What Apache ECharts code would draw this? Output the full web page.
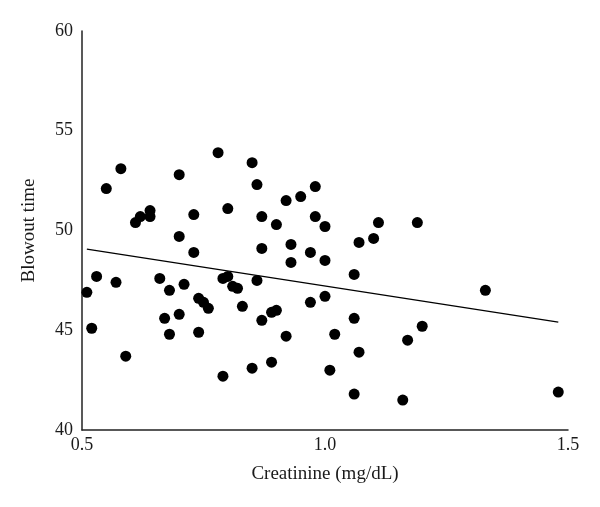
<!DOCTYPE html>
<html>
<head>
<meta charset="utf-8">
<script src="https://cdn.jsdelivr.net/npm/echarts@6/dist/echarts.min.js"></script>
<style>html,body{margin:0;padding:0;background:#fff}#c{width:600px;height:507px}</style>
</head>
<body>
<div id="c"></div>
<script>
const creatinine = [0.51,0.52,0.53,0.55,0.57,0.58,0.59,0.61,0.62,0.64,0.64,0.66,0.67,0.68,0.68,0.70,0.70,0.70,0.71,0.73,0.73,0.74,0.74,0.75,0.76,0.78,0.79,0.79,0.80,0.80,0.81,0.82,0.83,0.85,0.86,0.86,0.85,0.87,0.87,0.87,0.89,0.90,0.90,0.89,0.92,0.92,0.93,0.93,0.95,0.97,0.97,0.98,0.98,1.00,1.00,1.00,1.01,1.02,1.06,1.06,1.06,1.07,1.07,1.10,1.11,1.16,1.17,1.19,1.20,1.33,1.48];
const blowout = [46.9,45.1,47.7,52.1,47.4,53.1,43.7,50.4,50.7,51.0,50.7,47.6,45.6,47.0,44.8,52.8,49.7,45.8,47.3,50.8,48.9,46.6,44.9,46.4,46.1,53.9,47.6,42.7,51.1,47.7,47.2,47.1,46.2,53.4,52.3,47.5,43.1,50.7,49.1,45.5,45.9,50.3,46.0,43.4,51.5,44.7,49.3,48.4,51.7,48.9,46.4,52.2,50.7,50.2,48.5,46.7,43.0,44.8,47.8,45.6,41.8,49.4,43.9,49.6,50.4,41.5,44.5,50.4,45.2,47.0,41.9];
const trendX = [0.51, 1.48];
const trendY = [49.07, 45.41];
const xTicks = [0.5, 1.0, 1.5];
const yTicks = [40, 45, 50, 55, 60];

const pts = creatinine.map((x, i) => [x, blowout[i]]);
const trend = trendX.map((x, i) => [x, trendY[i]]);
const font = '"Liberation Serif", "DejaVu Serif", serif';

const chart = echarts.init(document.getElementById('c'), null, {renderer: 'canvas'});
chart.setOption({
  animation: false,
  backgroundColor: '#fff',
  grid: {left: 82, right: 32, top: 31, bottom: 77, containLabel: false},
  xAxis: {
    type: 'value', min: xTicks[0], max: xTicks[xTicks.length - 1], interval: 0.5,
    name: 'Creatinine (mg/dL)', nameLocation: 'middle', nameGap: 35,
    nameTextStyle: {fontFamily: font, fontSize: 19, color: '#1a1a1a'},
    axisLine: {show: true, lineStyle: {color: '#222', width: 1.5}},
    axisTick: {show: false},
    splitLine: {show: false},
    axisLabel: {fontFamily: font, fontSize: 18, color: '#1a1a1a', margin: 6,
      formatter: v => v.toFixed(1)}
  },
  yAxis: {
    type: 'value', min: yTicks[0], max: yTicks[yTicks.length - 1], interval: 5,
    name: 'Blowout time', nameLocation: 'middle', nameGap: 43,
    nameTextStyle: {fontFamily: font, fontSize: 19, color: '#1a1a1a'},
    axisLine: {show: true, lineStyle: {color: '#222', width: 1.5}},
    axisTick: {show: false},
    splitLine: {show: false},
    axisLabel: {fontFamily: font, fontSize: 18, color: '#1a1a1a', margin: 9}
  },
  series: [
    {type: 'scatter', data: pts, symbolSize: 11, itemStyle: {color: '#000', opacity: 1}},
    {type: 'line', data: trend, showSymbol: false, lineStyle: {color: '#000', width: 1.3}}
  ]
});
</script>
</body>
</html>
